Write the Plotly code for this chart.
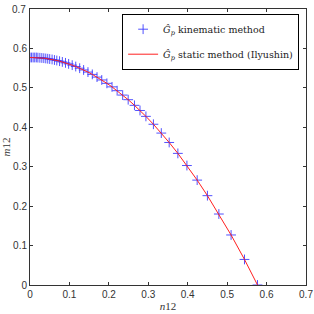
import plotly.graph_objects as go

n12 = [0, 0.004, 0.008, 0.012, 0.016, 0.020, 0.025, 0.030, 0.035, 0.040, 0.045, 0.050,
       0.056, 0.062, 0.068, 0.075, 0.082, 0.090, 0.098, 0.107, 0.116, 0.126, 0.136,
       0.147, 0.158, 0.170, 0.182, 0.195, 0.208, 0.221, 0.235, 0.249, 0.265, 0.279,
       0.294, 0.313, 0.333, 0.353, 0.375, 0.398, 0.424, 0.450, 0.479, 0.510, 0.544, 0.577]
m12 = [0.577, 0.577, 0.577, 0.577, 0.577, 0.5767, 0.5763, 0.5758, 0.5753, 0.5746, 0.5739,
       0.5731, 0.5720, 0.5707, 0.5694, 0.5677, 0.5658, 0.5634, 0.5608, 0.5576, 0.5541,
       0.5499, 0.5454, 0.5400, 0.5342, 0.5273, 0.5200, 0.5115, 0.5025, 0.4928, 0.4817,
       0.4700, 0.4557, 0.4426, 0.4277, 0.4077, 0.3853, 0.3615, 0.3338, 0.3030, 0.2660,
       0.2266, 0.1800, 0.1269, 0.0648, 0.0]

ticks = [0, 0.1, 0.2, 0.3, 0.4, 0.5, 0.6, 0.7]
tick_text = ["0", "0.1", "0.2", "0.3", "0.4", "0.5", "0.6", "0.7"]

legend_kin = "<i>Ĝ<sub>p</sub></i> kinematic method"
legend_sta = "<i>Ĝ<sub>p</sub></i> static method (Ilyushin)"

tick_font = dict(family="Liberation Sans, Arial", size=10, color="#333")

fig = go.Figure()
fig.add_trace(go.Scatter(
    x=n12, y=m12, mode="markers", name=legend_kin, legendgroup="a",
    marker=dict(symbol="cross-thin-open", size=7, color="rgba(50,50,255,0.85)",
                line=dict(color="rgba(50,50,255,0.85)", width=1)),
))
fig.add_trace(go.Scatter(
    x=n12, y=m12, mode="lines", name=legend_sta, legendgroup="b",
    line=dict(color="#ff2020", width=1),
))

axis_common = dict(
    tickvals=ticks,
    ticks="inside", ticklen=3, tickcolor="#333", mirror="ticks",
    showline=True, linecolor="#333", linewidth=1, showgrid=False, zeroline=False,
    automargin=False, ticklabeloverflow="allow",
    tickfont=tick_font,
)

fig.update_layout(
    width=314, height=314,
    margin=dict(l=30, r=8, t=9, b=29),
    paper_bgcolor="white", plot_bgcolor="white",
    showlegend=True,
    legend=dict(
        x=0.975, y=0.983, xanchor="right", yanchor="top",
        bordercolor="black", borderwidth=1, bgcolor="white",
        font=dict(family="DejaVu Serif, Liberation Serif, serif", size=9.5, color="#222"),
        tracegroupgap=6,
    ),
    xaxis=dict(**axis_common, ticktext=tick_text, range=[0, 0.70001],
               title=dict(text="<i>n</i>12", standoff=3,
                          font=dict(family="Liberation Serif, serif", size=11, color="#333"))),
    yaxis=dict(**axis_common, ticktext=tick_text[:-1] + [""], range=[0, 0.70001],
               title=dict(text="<i>m</i>12", standoff=2,
                          font=dict(family="Liberation Serif, serif", size=11, color="#333"))),
)

# top y tick label drawn as an annotation (Plotly drops it at the div edge)
fig.add_annotation(x=0, xref="paper", y=ticks[-1], yref="y", text=tick_text[-1],
                   showarrow=False, xanchor="right", yanchor="middle", xshift=-2,
                   font=tick_font)

fig.write_html("out.html")
